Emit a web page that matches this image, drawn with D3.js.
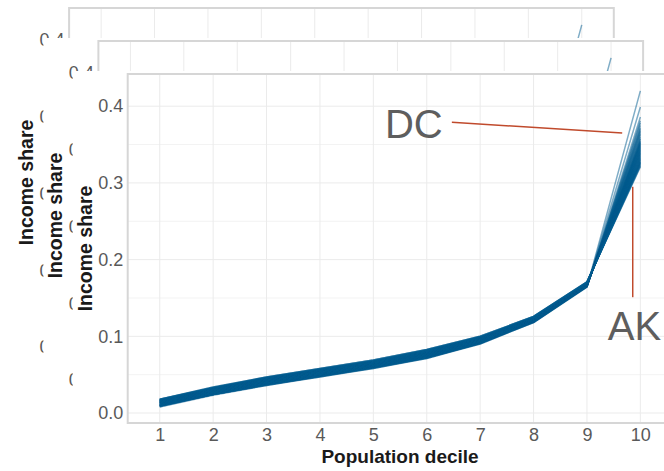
<!DOCTYPE html>
<html>
<head>
<meta charset="utf-8">
<script src="https://d3js.org/d3.v7.min.js"></script>
<style>
  body { margin: 0; background: #fff; }
  svg { display: block; }
  text { font-family: "Liberation Sans", Arial, sans-serif; }
</style>
</head>
<body>
<svg id="chart" width="664" height="471"></svg>
<script>
// Income share by population decile, one line per state (plus DC)
const deciles = [1, 2, 3, 4, 5, 6, 7, 8, 9, 10];
const states = ["DC","NY","CT","CA","FL","MA","TX","LA","IL","NJ",
                "GA","MS","AL","TN","NM","KY","NC","WA","AZ","VA",
                "OK","RI","AR","CO","NV","SC","MO","MI","WV","PA",
                "OH","MT","MD","WY","ME","DE","MN","KS","NE","ID",
                "OR","IN","WI","SD","HI","ND","IA","VT","NH","UT",
                "AK"];

// share of income held by each decile, in the order of `states`
const share1 = [.008,.009,.008,.009,.009,.010,.009,.009,.010,.010, .010,.009,.010,.011,.010,.011,.011,.011,.011,.012, .012,.012,.013,.013,.013,.013,.013,.014,.014,.014, .014,.015,.014,.015,.015,.015,.016,.015,.016,.016, .016,.017,.016,.017,.017,.017,.018,.017,.018,.018, .018];
const share2 = [.023,.024,.024,.024,.024,.024,.024,.025,.025,.024, .025,.025,.026,.026,.026,.026,.026,.027,.027,.027, .027,.028,.028,.028,.028,.028,.029,.029,.029,.029, .030,.030,.030,.030,.030,.031,.031,.031,.031,.032, .032,.032,.032,.032,.033,.033,.033,.033,.033,.034, .034];
const share3 = [.036,.036,.037,.037,.037,.037,.037,.038,.038,.038, .038,.038,.039,.039,.039,.039,.040,.040,.040,.040, .041,.041,.041,.041,.041,.042,.042,.042,.042,.042, .043,.043,.043,.043,.044,.044,.044,.044,.045,.045, .045,.045,.045,.046,.046,.046,.046,.046,.047,.047, .047];
const share4 = [.047,.048,.047,.048,.048,.048,.048,.049,.049,.049, .049,.049,.050,.050,.050,.050,.051,.051,.051,.051, .051,.052,.052,.052,.052,.053,.053,.053,.053,.053, .054,.054,.054,.054,.055,.055,.055,.055,.055,.056, .056,.056,.056,.056,.057,.057,.057,.057,.058,.058, .058];
const share5 = [.058,.058,.059,.059,.059,.060,.059,.060,.060,.060, .060,.060,.061,.061,.061,.061,.062,.062,.062,.062, .062,.063,.063,.063,.063,.064,.064,.064,.064,.064, .065,.065,.065,.065,.066,.066,.066,.066,.066,.067, .067,.067,.067,.068,.068,.068,.068,.068,.069,.069, .069];
const share6 = [.071,.072,.071,.072,.072,.072,.072,.073,.073,.074, .073,.074,.074,.074,.074,.075,.075,.075,.075,.076, .076,.076,.076,.077,.077,.077,.077,.078,.078,.078, .078,.078,.078,.079,.079,.079,.080,.080,.080,.080, .081,.081,.081,.081,.082,.082,.082,.082,.083,.083, .083];
const share7 = [.090,.090,.091,.091,.091,.091,.091,.091,.092,.092, .092,.092,.092,.093,.092,.093,.093,.093,.094,.094, .094,.094,.094,.095,.094,.095,.095,.095,.096,.096, .096,.096,.096,.097,.097,.097,.097,.097,.098,.098, .098,.098,.098,.099,.099,.099,.099,.099,.100,.100, .100];
const share8 = [.118,.118,.119,.118,.119,.119,.119,.119,.119,.119, .120,.120,.120,.120,.120,.120,.121,.121,.121,.121, .121,.121,.122,.122,.122,.122,.122,.122,.123,.123, .123,.123,.123,.123,.123,.124,.124,.124,.124,.124, .124,.125,.125,.125,.125,.125,.125,.126,.126,.126, .126];
const share9 = [.164,.165,.165,.164,.165,.165,.165,.165,.165,.165, .165,.166,.166,.166,.166,.166,.166,.166,.167,.167, .167,.167,.167,.167,.167,.168,.168,.168,.168,.168, .168,.169,.169,.169,.169,.169,.169,.169,.169,.169, .170,.170,.170,.170,.170,.170,.170,.171,.171,.171, .171];
const share10 = [.420,.399,.386,.381,.378,.375,.372,.370,.368,.366, .364,.362,.360,.358,.357,.355,.354,.353,.352,.351, .350,.349,.348,.347,.346,.345,.344,.343,.342,.341, .340,.339,.338,.337,.336,.335,.334,.333,.332,.331, .330,.329,.328,.327,.327,.326,.325,.324,.323,.322, .321];

const yTicks = [0.0, 0.1, 0.2, 0.3, 0.4];
const yMinor = [0.05, 0.15, 0.25, 0.35];

// annotation callouts, in data units
const callouts = [
  { label: "DC", line: [[6.47, 0.379], [9.66, 0.365]], text: [6.30, 0.359], anchor: "end" },
  { label: "AK", line: [[9.857, 0.295], [9.857, 0.151]], text: [9.39, 0.095], anchor: "start" }
];

const byDecile = [share1, share2, share3, share4, share5, share6, share7, share8, share9, share10];
const series = states.map((s, i) => ({
  state: s,
  values: deciles.map((d, k) => ({ decile: d, share: byDecile[k][i] }))
}));

// layout
const plotW = 544.7, plotH = 349;
const frontLeft = 127.7, frontTop = 74;
const stepX = 29.3, stepY = 33;

const x = d3.scaleLinear().domain([0.4, 10.6]).range([0, plotW]);
const y = d3.scaleLinear().domain([-0.013, 0.442]).range([plotH, 0]);
const line = d3.line().x(d => x(d.decile)).y(d => y(d.share));

const svg = d3.select("#chart");
svg.append("rect").attr("width", 664).attr("height", 471).attr("fill", "#fff");

// three stacked copies, back to front
[2, 1, 0].forEach(k => {
  const front = k === 0;
  const g = svg.append("g")
    .attr("transform", `translate(${frontLeft - k * stepX},${frontTop - k * stepY})`);

  g.append("rect")
    .attr("x", -55).attr("y", -3)
    .attr("width", plotW + 120).attr("height", 600)
    .attr("fill", "#fff");

  // grid
  g.append("g").selectAll("line").data(yMinor).join("line")
    .attr("x1", 0).attr("x2", plotW)
    .attr("y1", d => y(d)).attr("y2", d => y(d))
    .attr("stroke", "#f3f3f3").attr("stroke-width", 1);
  g.append("g").selectAll("line").data(yTicks).join("line")
    .attr("x1", 0).attr("x2", plotW)
    .attr("y1", d => y(d)).attr("y2", d => y(d))
    .attr("stroke", "#ebebeb").attr("stroke-width", 1);
  g.append("g").selectAll("line").data(deciles).join("line")
    .attr("y1", 0).attr("y2", plotH)
    .attr("x1", d => x(d)).attr("x2", d => x(d))
    .attr("stroke", "#ebebeb").attr("stroke-width", 1);

  // state lines
  g.append("g").selectAll("path").data(series).join("path")
    .attr("d", d => line(d.values))
    .attr("fill", "none")
    .attr("stroke", "#005b8f")
    .attr("stroke-opacity", 0.5)
    .attr("stroke-width", 1.5)
    .attr("stroke-linejoin", "round");

  // panel border
  g.append("rect")
    .attr("x", 0).attr("y", 0).attr("width", plotW).attr("height", plotH)
    .attr("fill", "none").attr("stroke", "#d6d6d6").attr("stroke-width", 2);

  // y axis
  const ya = g.append("g")
    .call(d3.axisLeft(y).tickValues(yTicks).tickFormat(d3.format(".1f")).tickSize(0).tickPadding(4.5));
  ya.select(".domain").remove();
  ya.selectAll("text").attr("fill", "#595959").attr("font-size", 18)
    .attr("font-family", "'Liberation Sans', Arial, sans-serif");

  g.append("text")
    .attr("transform", `translate(-36,${plotH / 2}) rotate(-90)`)
    .attr("text-anchor", "middle")
    .attr("font-size", 19.5).attr("font-weight", "bold").attr("fill", "#1a1a1a")
    .text("Income share");

  // x axis and callouts only show on the front copy
  if (front) {
    const xa = g.append("g").attr("transform", `translate(0,${plotH})`)
      .call(d3.axisBottom(x).tickValues(deciles).tickFormat(d3.format("d")).tickSize(0).tickPadding(5.5));
    xa.select(".domain").remove();
    xa.selectAll("text").attr("fill", "#595959").attr("font-size", 18)
      .attr("font-family", "'Liberation Sans', Arial, sans-serif");

    g.append("text")
      .attr("x", plotW / 2).attr("y", plotH + 40)
      .attr("text-anchor", "middle")
      .attr("font-size", 19).attr("font-weight", "bold").attr("fill", "#1a1a1a")
      .text("Population decile");

    callouts.forEach(c => {
      g.append("line")
        .attr("x1", x(c.line[0][0])).attr("y1", y(c.line[0][1]))
        .attr("x2", x(c.line[1][0])).attr("y2", y(c.line[1][1]))
        .attr("stroke", "#c04a2c").attr("stroke-width", 1.5);
      g.append("text")
        .attr("x", x(c.text[0])).attr("y", y(c.text[1]))
        .attr("text-anchor", c.anchor)
        .attr("font-size", 40).attr("fill", "#5e5e5e")
        .text(c.label);
    });
  }
});
</script>
</body>
</html>
